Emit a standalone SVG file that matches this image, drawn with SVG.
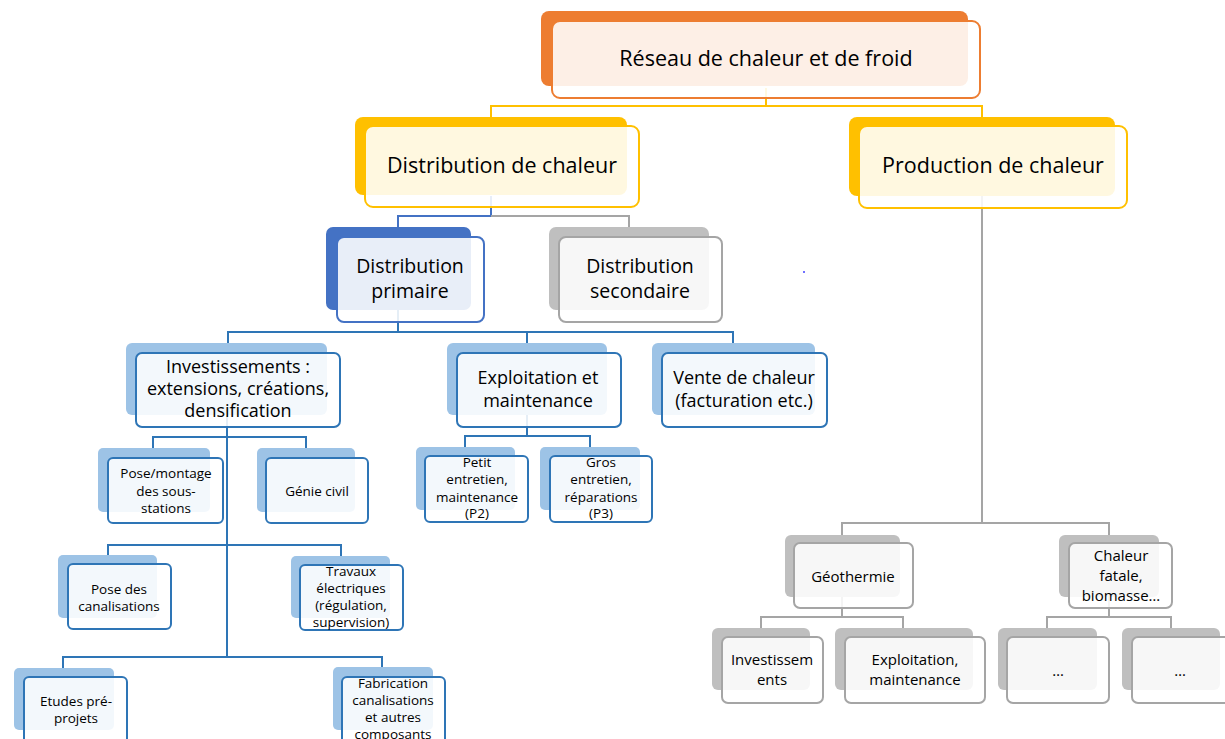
<svg xmlns="http://www.w3.org/2000/svg" width="1225" height="739" viewBox="0 0 1225 739">
<style>
.bk{stroke:none}
.fr{fill:#fff;fill-opacity:.88;stroke-width:2}
.o{fill:#ED7D31}.of{stroke:#ED7D31}
.y{fill:#FFC000}.yf{stroke:#FFC000}
.b{fill:#4472C4}.bf{stroke:#4472C4}
.g{fill:#BFBFBF}.gf{stroke:#A5A5A5}
.lb{fill:#9DC3E6}.lbf{stroke:#2E75B6}
text{font-family:"Open Sans","Liberation Sans",sans-serif;fill:#000;text-anchor:middle}
.t1{font-size:21.5px}
.t2{font-size:19.5px}
.t3{font-size:18px}
.t4{font-size:13.5px}
.t5{font-size:15px}
.c{fill:none;stroke-width:2}
</style>
<rect width="1225" height="739" fill="#fff"/>
<g id="connectors">
<path class="c" stroke="#FFC000" d="M766,88V106M491,117V106H982V117"/>
<path class="c" stroke="#4472C4" d="M491,196V216H398V227"/>
<path class="c" stroke="#A5A5A5" d="M491,216H629V227"/>
<path class="c" stroke="#A5A5A5" d="M982,196V523M842,535V523H1109V535"/>
<path class="c" stroke="#2E75B6" d="M398,310V332M228,343V332H733V343M527,332V343"/>
<path class="c" stroke="#2E75B6" d="M227,415V657M153,448V437H306V448M108,555V545H341V556M63,668V657H382V667"/>
<path class="c" stroke="#2E75B6" d="M527,415V436M465,447V436H590V447"/>
<path class="c" stroke="#A5A5A5" d="M842,597V617M761,628V617H903V628M1109,597V617M1047,628V617H1171V628"/>
</g>
<g id="n-reseau">
<rect class="bk o" x="541" y="11" width="427" height="75" rx="8"/>
<rect class="fr of" x="552" y="21" width="428" height="77" rx="8"/>
<text class="t1" x="766" y="66">Réseau de chaleur et de froid</text>
</g>
<g id="n-distribution">
<rect class="bk y" x="355" y="117" width="272" height="78" rx="8"/>
<rect class="fr yf" x="365" y="126" width="274" height="81" rx="8"/>
<text class="t1" x="502" y="173">Distribution de chaleur</text>
</g>
<g id="n-production">
<rect class="bk y" x="849" y="117" width="266" height="79" rx="8"/>
<rect class="fr yf" x="859" y="126" width="268" height="82" rx="8"/>
<text class="t1" x="993" y="173">Production de chaleur</text>
</g>
<g id="n-primaire">
<rect class="bk b" x="326" y="227" width="145" height="83" rx="7"/>
<rect class="fr bf" x="337" y="237" width="147" height="85" rx="7"/>
<text class="t2" x="410" y="273">Distribution</text>
<text class="t2" x="410" y="298">primaire</text>
</g>
<g id="n-secondaire">
<rect class="bk g" x="549" y="227" width="160" height="83" rx="7"/>
<rect class="fr gf" x="559" y="237" width="163" height="85" rx="7"/>
<text class="t2" x="640" y="273">Distribution</text>
<text class="t2" x="640" y="298">secondaire</text>
</g>
<rect x="803" y="271" width="2" height="2" fill="#7070ff"/>
<g id="n-invest">
<rect class="bk lb" x="126" y="343" width="201" height="72" rx="6"/>
<rect class="fr lbf" x="136" y="353" width="204" height="74" rx="6"/>
<text class="t3" x="238" y="373">Investissements :</text>
<text class="t3" x="238" y="395">extensions, créations,</text>
<text class="t3" x="238" y="417">densification</text>
</g>
<g id="n-exploit">
<rect class="bk lb" x="447" y="343" width="160" height="72" rx="6"/>
<rect class="fr lbf" x="457" y="353" width="164" height="74" rx="6"/>
<text class="t3" x="538" y="384">Exploitation et</text>
<text class="t3" x="538" y="407">maintenance</text>
</g>
<g id="n-vente">
<rect class="bk lb" x="652" y="343" width="163" height="72" rx="6"/>
<rect class="fr lbf" x="662" y="353" width="165" height="74" rx="6"/>
<text class="t3" x="744" y="384">Vente de chaleur</text>
<text class="t3" x="744" y="407">(facturation etc.)</text>
</g>
<g id="n-pose-montage">
<rect class="bk lb" x="98" y="448" width="112" height="64" rx="5"/>
<rect class="fr lbf" x="108" y="458" width="115" height="65" rx="5"/>
<text class="t4" x="166" y="478">Pose/montage</text>
<text class="t4" x="166" y="496">des sous-</text>
<text class="t4" x="166" y="513">stations</text>
</g>
<g id="n-genie">
<rect class="bk lb" x="257" y="448" width="98" height="64" rx="5"/>
<rect class="fr lbf" x="266" y="458" width="102" height="65" rx="5"/>
<text class="t4" x="317" y="496">Génie civil</text>
</g>
<g id="n-petit">
<rect class="bk lb" x="416" y="447" width="99" height="63" rx="5"/>
<rect class="fr lbf" x="425" y="456" width="103" height="66" rx="5"/>
<text class="t4" x="477" y="467">Petit</text>
<text class="t4" x="477" y="484">entretien,</text>
<text class="t4" x="477" y="502">maintenance</text>
<text class="t4" x="477" y="518">(P2)</text>
</g>
<g id="n-gros">
<rect class="bk lb" x="540" y="447" width="100" height="63" rx="5"/>
<rect class="fr lbf" x="550" y="456" width="102" height="66" rx="5"/>
<text class="t4" x="601" y="467">Gros</text>
<text class="t4" x="601" y="484">entretien,</text>
<text class="t4" x="601" y="502">réparations</text>
<text class="t4" x="601" y="518">(P3)</text>
</g>
<g id="n-pose-canal">
<rect class="bk lb" x="58" y="555" width="99" height="63" rx="5"/>
<rect class="fr lbf" x="68" y="564" width="103" height="65" rx="5"/>
<text class="t4" x="119" y="594">Pose des</text>
<text class="t4" x="119" y="611">canalisations</text>
</g>
<g id="n-travaux">
<rect class="bk lb" x="291" y="556" width="99" height="62" rx="5"/>
<rect class="fr lbf" x="300" y="565" width="103" height="65" rx="5"/>
<text class="t4" x="351" y="576">Travaux</text>
<text class="t4" x="351" y="593">électriques</text>
<text class="t4" x="351" y="610">(régulation,</text>
<text class="t4" x="351" y="627">supervision)</text>
</g>
<g id="n-etudes">
<rect class="bk lb" x="14" y="668" width="100" height="62" rx="5"/>
<rect class="fr lbf" x="24" y="677" width="103" height="70" rx="5"/>
<text class="t4" x="76" y="706">Etudes pré-</text>
<text class="t4" x="76" y="723">projets</text>
</g>
<g id="n-fabrication">
<rect class="bk lb" x="333" y="667" width="100" height="63" rx="5"/>
<rect class="fr lbf" x="342" y="677" width="103" height="70" rx="5"/>
<text class="t4" x="393" y="688">Fabrication</text>
<text class="t4" x="393" y="705">canalisations</text>
<text class="t4" x="393" y="722">et autres</text>
<text class="t4" x="393" y="739">composants</text>
</g>
<g id="n-geothermie">
<rect class="bk g" x="785" y="535" width="115" height="62" rx="6"/>
<rect class="fr gf" x="794" y="543" width="119" height="65" rx="6"/>
<text class="t5" x="853" y="582">Géothermie</text>
</g>
<g id="n-fatale">
<rect class="bk g" x="1059" y="535" width="100" height="62" rx="6"/>
<rect class="fr gf" x="1069" y="543" width="103" height="65" rx="6"/>
<text class="t5" x="1121" y="561">Chaleur</text>
<text class="t5" x="1121" y="581">fatale,</text>
<text class="t5" x="1121" y="601">biomasse…</text>
</g>
<g id="n-geo-invest">
<rect class="bk g" x="712" y="628" width="98" height="62" rx="6"/>
<rect class="fr gf" x="722" y="637" width="101" height="66" rx="6"/>
<text class="t5" x="772" y="665">Investissem</text>
<text class="t5" x="772" y="685">ents</text>
</g>
<g id="n-geo-exploit">
<rect class="bk g" x="835" y="628" width="138" height="62" rx="6"/>
<rect class="fr gf" x="845" y="637" width="140" height="66" rx="6"/>
<text class="t5" x="915" y="665">Exploitation,</text>
<text class="t5" x="915" y="685">maintenance</text>
</g>
<g id="n-fat-1">
<rect class="bk g" x="998" y="628" width="99" height="62" rx="6"/>
<rect class="fr gf" x="1007" y="637" width="102" height="66" rx="6"/>
<text class="t5" x="1058" y="676">…</text>
</g>
<g id="n-fat-2">
<rect class="bk g" x="1122" y="628" width="98" height="62" rx="6"/>
<rect class="fr gf" x="1132" y="637" width="102" height="66" rx="6"/>
<text class="t5" x="1180" y="676">…</text>
</g>
</svg>
